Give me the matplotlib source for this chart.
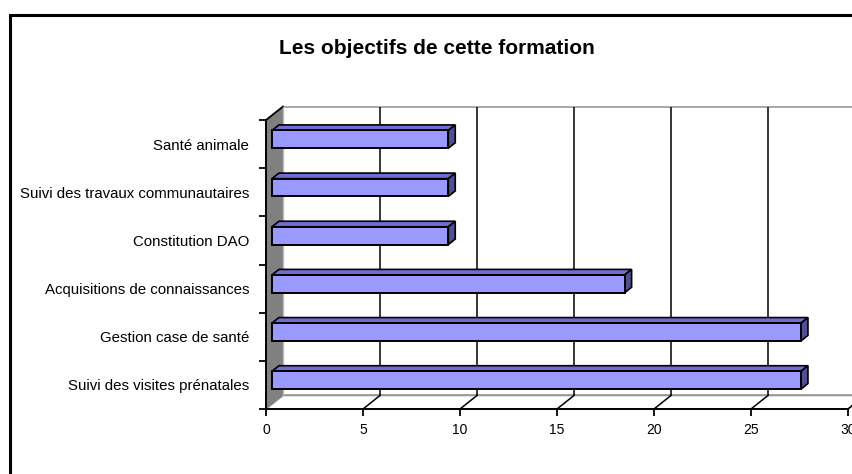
import matplotlib
matplotlib.use("Agg")
import matplotlib.pyplot as plt
from matplotlib.patches import Polygon, Rectangle

# ── Data ──────────────────────────────────────────────────────────────────────
categories = [
    "Suivi des visites prénatales",
    "Gestion case de santé",
    "Acquisitions de connaissances",
    "Constitution DAO",
    "Suivi des travaux communautaires",
    "Santé animale",
]
values = [27.27, 27.27, 18.18, 9.09, 9.09, 9.09]
x_ticks = [0, 5, 10, 15, 20, 25, 30]
title = "Les objectifs de cette formation"

# ── Style / geometry ─────────────────────────────────────────────────────────
W, H, DPI = 853, 474, 100
XMAX = 30
DX, DY = 0.876, 0.281          # oblique depth offset in data units
F0, F1 = 0.35, 0.76            # bar front / back depth fraction
BAR_H = 0.37
FACE, TOP, SIDE = "#9999FF", "#6E6ED2", "#4F4F94"
WALL = "#808080"

plt.rcParams["font.family"] = ["Liberation Sans", "DejaVu Sans"]

fig = plt.figure(figsize=(W / DPI, H / DPI), dpi=DPI)
fig.patch.set_facecolor("white")

# outer chart frame (runs off the right/bottom edge as in the source)
fig.patches.append(Rectangle((10 / W, -0.1), 1.2, 1 - 15 / H + 0.1,
                             transform=fig.transFigure, fill=False,
                             edgecolor="black", linewidth=2.2))

ylo, yhi = -0.5, len(categories) - 0.5
left, right = 266 / W, (266 + (XMAX + DX) * 19.4) / W
bottom, top = (H - 409) / H, (H - 106.5) / H
ax = fig.add_axes([left, bottom, right - left, top - bottom])
ax.set_xlim(0, XMAX + DX)
ax.set_ylim(ylo, yhi + DY)
ax.set_facecolor("none")

# back wall
ax.add_patch(Polygon([(DX, ylo + DY), (XMAX + DX, ylo + DY),
                      (XMAX + DX, yhi + DY), (DX, yhi + DY)],
                     closed=True, facecolor="white", edgecolor="#999999",
                     linewidth=1.2, clip_on=False, zorder=1))
# floor
ax.add_patch(Polygon([(0, ylo), (XMAX, ylo), (XMAX + DX, ylo + DY), (DX, ylo + DY)],
                     closed=True, facecolor="white", edgecolor="#999999",
                     linewidth=1.2, clip_on=False, zorder=1))
# left wall
ax.add_patch(Polygon([(0, ylo), (DX, ylo + DY), (DX, yhi + DY), (0, yhi)],
                     closed=True, facecolor=WALL, edgecolor="none",
                     clip_on=False, zorder=1))
ax.plot([0, DX], [yhi, yhi + DY], color="black", lw=1.3, clip_on=False, zorder=2)
ax.plot([DX, DX], [ylo + DY, yhi + DY], color="#bbbbbb", lw=1.0, clip_on=False, zorder=2)

# gridlines on back wall + floor
for t in x_ticks[1:-1]:
    ax.plot([t + DX, t + DX], [ylo + DY, yhi + DY], color="black", lw=1.1, zorder=2)
for t in x_ticks[1:]:
    ax.plot([t, t + DX], [ylo, ylo + DY], color="black", lw=1.1, zorder=2, clip_on=False)

# 3D bars
for i, v in enumerate(values):
    x0 = F0 * DX
    y0 = i - BAR_H / 2 + F0 * DY
    y1 = i + BAR_H / 2 + F0 * DY
    ddx, ddy = (F1 - F0) * DX, (F1 - F0) * DY
    ax.add_patch(Polygon([(x0, y1), (x0 + v, y1), (x0 + v + ddx, y1 + ddy), (x0 + ddx, y1 + ddy)],
                         closed=True, facecolor=TOP, edgecolor="black", lw=1.2, zorder=3))
    ax.add_patch(Polygon([(x0 + v, y0), (x0 + v + ddx, y0 + ddy), (x0 + v + ddx, y1 + ddy), (x0 + v, y1)],
                         closed=True, facecolor=SIDE, edgecolor="black", lw=1.2, zorder=3))
    ax.add_patch(Rectangle((x0, y0), v, y1 - y0, facecolor=FACE,
                           edgecolor="black", lw=1.4, zorder=4))

# axes: front floor edge and left axis
for s in ("top", "right"):
    ax.spines[s].set_visible(False)
ax.spines["bottom"].set_bounds(0, XMAX)
ax.spines["left"].set_bounds(ylo, yhi)
for s in ("bottom", "left"):
    ax.spines[s].set_linewidth(1.4)
    ax.spines[s].set_zorder(5)

ax.set_xticks(x_ticks)
ax.set_xticklabels([str(t) for t in x_ticks], fontsize=10)
ax.tick_params(axis="x", direction="out", length=5, width=1.3, pad=5)

ax.set_yticks([ylo + k for k in range(len(categories) + 1)])
ax.set_yticklabels([])
ax.set_yticks(range(len(categories)), minor=True)
ax.set_yticklabels(categories, minor=True, fontsize=10.8)
ax.tick_params(axis="y", which="major", direction="out", length=5, width=1.3)
ax.tick_params(axis="y", which="minor", length=0, pad=12)

fig.text(437 / W, 1 - 48 / H, title, ha="center", va="center",
         fontsize=15, fontweight="bold")

fig.savefig("out.png", dpi=DPI)
